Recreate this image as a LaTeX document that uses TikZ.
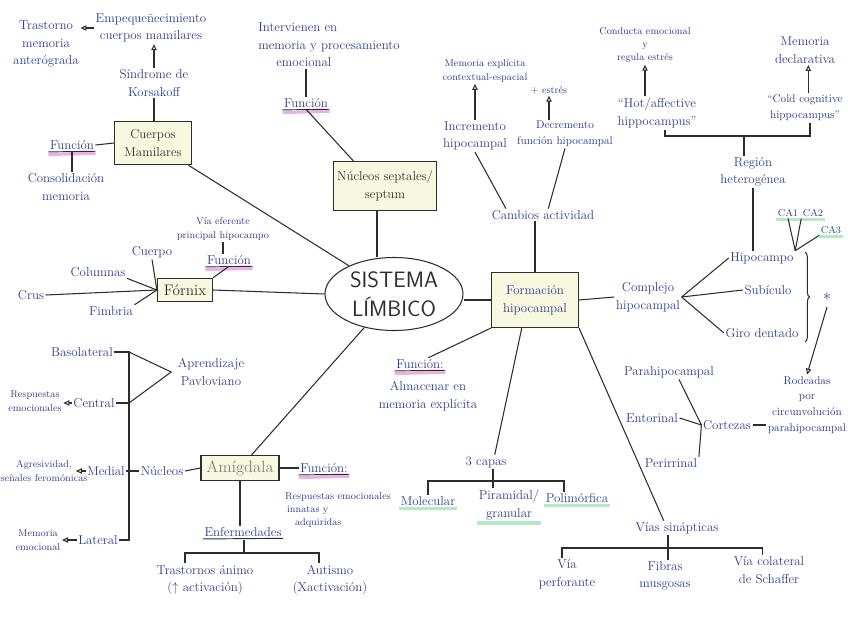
\documentclass[tikz,border=0pt]{standalone}
\usepackage{tikz}
\usetikzlibrary{shapes.geometric,arrows.meta,positioning,calc,backgrounds,decorations.pathreplacing}
\definecolor{inkblue}{RGB}{45,60,145}
\definecolor{inkgrey}{RGB}{45,45,45}
\definecolor{boxcream}{RGB}{248,248,224}
\definecolor{hlpink}{RGB}{228,150,222}
\definecolor{hlgreen}{RGB}{165,232,182}
\newcommand{\handsize}{\fontsize{11}{15}\selectfont}
\newcommand{\handmid}{\fontsize{9.5}{13.5}\selectfont}
\newcommand{\handsmall}{\fontsize{8.5}{11.5}\selectfont}

\begin{document}
\begin{tikzpicture}[x=0.3mm, y=-0.3mm, color=inkgrey, line width=0.9pt,
    every node/.style={inner sep=1pt},
    concept/.style={draw, line width=1pt, fill=boxcream, align=center, inner sep=3pt,
                    text=inkgrey, font=\handsize},
    note/.style={text=inkblue, align=center, font=\handsize},
    midnote/.style={text=inkblue, align=center, font=\handmid},
    smallnote/.style={text=inkblue, align=center, font=\handsmall},
    arr/.style={-{Triangle[open,length=1.8mm,width=1.6mm]}},
    pinkmark/.style={draw=hlpink, line width=2.6pt, opacity=0.75},
    greenmark/.style={draw=hlgreen, line width=2.6pt, opacity=0.85},
    inkline/.style={draw=inkgrey, line width=0.8pt}]
    \useasboundingbox (0,0) rectangle (848,619);

    % centre and the five structures
    \node[ellipse, draw, inner sep=0pt, minimum width=41.4mm, minimum height=21.9mm,
          align=center, font=\sffamily\fontsize{19}{25}\selectfont] (sl) at (394,294)
          {SISTEMA\\LÍMBICO};
    \node[concept, minimum width=23mm, minimum height=13mm] (cm) at (153,143) {Cuerpos\\Mamilares};
    \node[concept, minimum width=31mm, minimum height=14.5mm] (ns) at (385,186) {Núcleos septales/\\septum};
    \node[concept, minimum width=16.5mm, minimum height=7mm, font=\fontsize{13}{15}\selectfont] (fx) at (185,290) {Fórnix};
    \node[concept, minimum width=26.1mm, minimum height=16.5mm, text=inkblue] (fh) at (535,300) {Formación\\hipocampal};
    \node[concept, minimum width=23.4mm, minimum height=7.5mm, text=gray, font=\fontsize{14}{16}\selectfont] (am) at (240,468) {Amígdala};

    % cuerpos mamilares
    \node[note] (kor) at (154,83) {Síndrome de\\Korsakoff};
    \node[note] (emp) at (151,28) {Empequeñecimiento\\cuerpos mamilares};
    \node[note] (tra) at (46,44) {Trastorno\\memoria\\anterógrada};
    \node[note] (fcm) at (72,145) {Función};
    \node[note] (con) at (66,187) {Consolidación\\memoria};
    \draw (kor.south) -- (kor.south |- cm.north);
    \draw[arr] (kor.north) -- (kor.north |- emp.south);
    \draw[arr] (emp.west) -- (emp.west -| tra.east);
    \draw (fcm.east) -- (cm.west);
    \draw (fcm.south) -- (fcm.south |- con.north);
    \draw (cm) -- (sl);

    % nucleos septales
    \node[note, align=left] (int) at (329,45) {Intervienen en\\memoria y procesamiento\\\hspace{1.4em}emocional};
    \node[note] (fns) at (306,103) {Función};
    \draw (int.south -| fns.north) -- (fns.north);
    \draw (fns.south) -- ($(ns.north west)!0.2!(ns.north east)$);
    \draw ([xshift=-2.4mm]ns.south) -- ([xshift=-2.4mm]ns.south |- sl.north);

    % fornix
    \node[note] (cue) at (152,252) {Cuerpo};
    \node[note] (col) at (98,272) {Columnas};
    \node[note] (cru) at (31,295) {Crus};
    \node[note] (fim) at (111,311) {Fimbria};
    \node[smallnote] (via) at (223,229) {Vía eferente\\principal hipocampo};
    \node[note] (ffx) at (229,260) {Función};
    \draw (cue.south) -- (fx.west);
    \draw (col.south east) -- (fx.west);
    \draw (cru.east) -- (fx.west);
    \draw (fim.north east) -- (fx.west);
    \draw (via.south) -- (via.south |- ffx.north);
    \draw (ffx.south) -- (fx.north east);
    \draw (fx.east) -- (sl.west);

    % formacion hipocampal
    \node[note] (cam) at (543,215) {Cambios actividad};
    \node[note] (inc) at (475,136) {Incremento\\hipocampal};
    \node[midnote] (dec) at (565,134) {Decremento\\función hipocampal};
    \node[smallnote] (mex) at (485,71) {Memoria explícita\\contextual-espacial};
    \node[smallnote] (est) at (549,90) {+ estrés};
    \node[note] (ffh) at (420,364) {Función:};
    \node[note] (alm) at (428,396) {Almacenar en\\memoria explícita};
    \node[note] (cap) at (486,462) {3 capas};
    \node[note] (mol) at (428,501) {Molecular};
    \node[note] (pir) at (509,505) {Piramidal/\\granular};
    \node[note] (pol) at (577,498) {Polimórfica};
    \node[note] (vsi) at (677,528) {Vías sinápticas};
    \node[note] (vpe) at (567,574) {Vía\\perforante};
    \node[note] (fmu) at (665,576) {Fibras\\musgosas};
    \node[note] (vcs) at (769,570) {Vía colateral\\de Schaffer};
    \draw (fh.west -| sl.east) -- (fh.west);
    \draw (cam.south -| fh.north) -- (fh.north);
    \draw ($(cam.north west)!0.15!(cam.north east)$) -- (inc.south);
    \draw ($(cam.north west)!0.55!(cam.north east)$) -- (dec.south);
    \draw[arr] (inc.north) -- (inc.north |- mex.south);
    \draw[arr] (dec.north -| est.south) -- (est.south);
    \draw (fh.south west) -- ([xshift=2.5mm]ffh.north);
    \draw ($(fh.south west)!0.35!(fh.south east)$) -- ([xshift=-4mm]cap.north east);
    \coordinate (capbar) at (493,481);
    \draw (cap.south -| capbar) -- (capbar |- pir.north);
    \draw (mol.north) |- (capbar) -| ([xshift=-3.9mm]pol.north);
    \draw (fh.south east) -- ([xshift=-4mm]vsi.north);
    \coordinate (vsibar) at (668,548);
    \draw (vsi.south -| vsibar) -- (vsibar |- fmu.north);
    \draw ([xshift=-1.5mm]vpe.north) |- (vsibar) -| ([xshift=-2mm]vcs.north);

    % complejo hipocampal
    \node[note] (cph) at (648,297) {Complejo\\hipocampal};
    \node[note] (hip) at (762,258) {Hipocampo};
    \node[note] (sub) at (768,290) {Subículo};
    \node[note] (gir) at (762,333) {Giro dentado};
    \node[note] (reg) at (753,172) {Región\\heterogénea};
    \node[note] (hot) at (657,113) {``Hot/affective\\hippocampus''};
    \node[midnote] (cold) at (805,108) {``Cold cognitive\\hippocampus''};
    \node[smallnote] (cde) at (645,45) {Conducta emocional\\y\\regula estrés};
    \node[note] (mde) at (805,50) {Memoria\\declarativa};
    \node[smallnote] (ca1) at (788,213) {CA1};
    \node[smallnote] (ca2) at (813,213) {CA2};
    \node[smallnote] (ca3) at (831,230) {CA3};
    \node[note, font=\Large] (star) at (827,299) {*};
    \node[midnote] (rod) at (807,405) {Rodeadas\\por\\circunvolución\\parahipocampal};
    \draw (fh.east) -- (cph.west);
    \foreach \n in {hip,sub,gir}
        \draw (cph.east) -- (\n.west);
    \draw (reg.south) -- (reg.south |- hip.north);
    \coordinate (regbar) at (744,136);
    \draw (regbar |- reg.north) -- (regbar);
    \draw ([xshift=2.4mm]hot.south) |- (regbar) -| ([xshift=1.5mm]cold.south);
    \draw[arr] (hot.north -| cde.south) -- (cde.south);
    \draw[arr] ([xshift=1mm]cold.north) -- ([xshift=1mm]cold.north |- mde.south);
    \draw (hip.north east) -- (ca1.south);
    \draw (hip.north east) -- (ca2.south west);
    \draw (hip.north east) -- (ca3.south west);
    \coordinate (bt) at (805,252);
    \coordinate (bb) at (805,342);
    \draw[decorate, decoration={brace, amplitude=4pt}] (bt) -- (bb);
    \draw[arr] (star.south) -- (rod.north);

    % cortezas
    \node[note] (par) at (669,372) {Parahipocampal};
    \node[note] (ent) at (652,418) {Entorinal};
    \node[note] (per) at (671,463) {Perirrinal};
    \node[note] (cor) at (727,425) {Cortezas};
    \draw ([xshift=3mm]par.south) -- (cor.west);
    \draw (ent.east) -- (cor.west);
    \draw (per.north east) -- (cor.west);
    \draw (cor.east) -- (cor.east -| rod.west);

    % amigdala
    \node[note] (fam) at (324,468) {Función:};
    \node[smallnote, align=left] (rea) at (338,510) {Respuestas emocionales\\\hspace{0.2em}innatas y\\\hspace{1em}adquiridas};
    \node[note] (enf) at (243,532) {Enfermedades};
    \node[note] (tda) at (205,580) {Trastornos ánimo\\($\uparrow$ activación)};
    \node[note] (aut) at (330,580) {Autismo\\(Xactivación)};
    \node[note] (nuc) at (162,471) {Núcleos};
    \node[note] (bas) at (82,352) {Basolateral};
    \node[note] (cen) at (94,403) {Central};
    \node[note] (med) at (106,471) {Medial};
    \node[note] (lat) at (98,540) {Lateral};
    \node[note] (apr) at (211,372) {Aprendizaje\\Pavloviano};
    \node[smallnote] (rem) at (35,401) {Respuestas\\emocionales};
    \node[smallnote] (agr) at (44,471) {Agresividad,\\señales feromónicas};
    \node[smallnote] (mem) at (38,540) {Memoria\\emocional};
    \draw (sl) -- (am);
    \draw (am.east) -- (fam.west);
    \draw (am.south) -- (am.south |- enf.north);
    \coordinate (enfbar) at (244,553);
    \draw ([yshift=-0.6mm]enf.south -| enfbar) -- (enfbar);
    \draw ([xshift=-6mm]tda.north) |- (enfbar) -| ([xshift=-3.3mm]aut.north);
    \coordinate (nx) at (129,0);
    \draw (bas.east) -- (bas.east -| nx) -- (lat.east -| nx) -- (lat.east);
    \draw (cen.east) -- (cen.east -| nx);
    \draw (med.east) -- (nuc.west);
    \draw (nuc.east) -- (am.west);
    \draw (bas.east -| nx) -- ([xshift=-1.5mm]apr.west) -- (cen.east -| nx);
    \draw[arr] (cen.west) -- (cen.west -| rem.east);
    \draw[arr] (med.west) -- ([xshift=-4mm]med.west -| agr.east);
    \draw[arr] (lat.west) -- (lat.west -| mem.east);

    % underlines and highlights
    \begin{scope}[on background layer]
        \foreach \f in {fcm,fns,ffx,ffh,fam}
            \draw[pinkmark] ([yshift=-1mm]\f.south west) -- ([yshift=-0.6mm]\f.south east);
        \foreach \g in {mol,pir,pol,ca1,ca2,ca3}
            \draw[greenmark] ([yshift=-0.4mm]\g.south west) -- ([yshift=-0.4mm]\g.south east);
    \end{scope}
    \foreach \f in {fcm,fns,ffx,ffh,fam,enf}
        \draw[inkline] ([yshift=-0.2mm]\f.south west) -- (\f.south east);
\end{tikzpicture}
\end{document}
